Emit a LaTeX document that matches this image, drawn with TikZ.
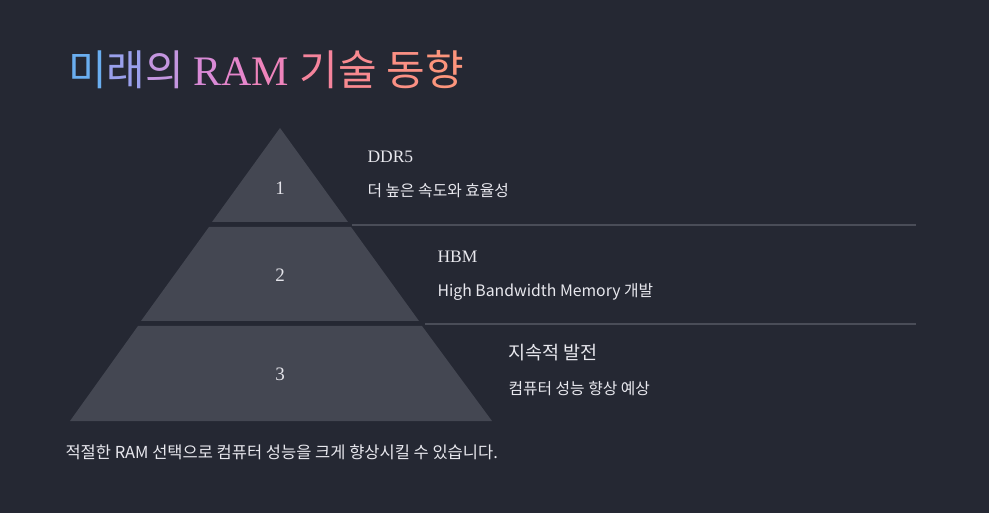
\documentclass[tikz,border=0pt]{standalone}
\usepackage{fontspec}
\setmainfont{Liberation Serif}
\newfontfamily\kr{Noto Sans CJK KR}
\begin{document}
\begin{tikzpicture}[x=1pt,y=-1pt,
 band/.style={fill=bandc,draw=none},
 num/.style={text=numc,font=\fontsize{19}{22}\selectfont,anchor=center},
 head/.style={text=headc,font=\fontsize{17.5}{21}\selectfont,anchor=west},
 sub/.style={text=headc,font=\kr\fontsize{15.8}{19}\selectfont,anchor=west}]
\definecolor{bg}{HTML}{252833}
\definecolor{bandc}{HTML}{444752}
\definecolor{linec}{HTML}{4A4D58}
\definecolor{numc}{HTML}{E4E4EA}
\definecolor{headc}{HTML}{E8E8EE}
\fill[bg] (0,0) rectangle (989,513);
\useasboundingbox (0,0) rectangle (989,513);
\fill[band] (280,128) -- (348,222) -- (212,222) -- cycle;
\fill[band] (209,227) -- (351,227) -- (419,321) -- (141,321) -- cycle;
\fill[band] (138,326) -- (422,326) -- (492,421) -- (70,421) -- cycle;
\coordinate (l1a) at (352,225); \coordinate (l1b) at (916,225);
\coordinate (l2a) at (425,324); \coordinate (l2b) at (916,324);
\draw[linec,line width=1.5pt] (l1a) -- (l1b);
\draw[linec,line width=1.5pt] (l2a) -- (l2b);
\node[num] (n1) at (280,188) {1};
\node[num] (n2) at (280,275) {2};
\node[num] (n3) at (280,374) {3};
\node[head] (h1) at (364,157) {DDR5};
\node[sub] (s1) at (364,191) {더 높은 속도와 효율성};
\node[head] (h2) at (434,257) {HBM};
\node[sub] (s2) at (434,292) {High Bandwidth Memory 개발};
\node[head,font=\kr\fontsize{18.5}{22}\selectfont] (h3) at (505,353) {지속적 발전};
\node[sub] (s3) at (505,389) {컴퓨터 성능 향상 예상};
\node[sub,font=\kr\fontsize{16.5}{20}\selectfont] (ft) at (62,452) {적절한 RAM 선택으로 컴퓨터 성능을 크게 향상시킬 수 있습니다.};
\node[anchor=west,font=\fontsize{42}{46}\selectfont,inner sep=0] (t) at (68,70)
 {\kr\textcolor[HTML]{6AAEF0}{미}\textcolor[HTML]{9AA0EC}{래}\textcolor[HTML]{C496E0}{의} \rmfamily\textcolor[HTML]{D98AD6}{R}\textcolor[HTML]{E586CC}{A}\textcolor[HTML]{EE84BC}{M} \kr\textcolor[HTML]{F5849C}{기}\textcolor[HTML]{F98A90}{술} \textcolor[HTML]{FB9084}{동}\textcolor[HTML]{FC957C}{향}};
\end{tikzpicture}
\end{document}
